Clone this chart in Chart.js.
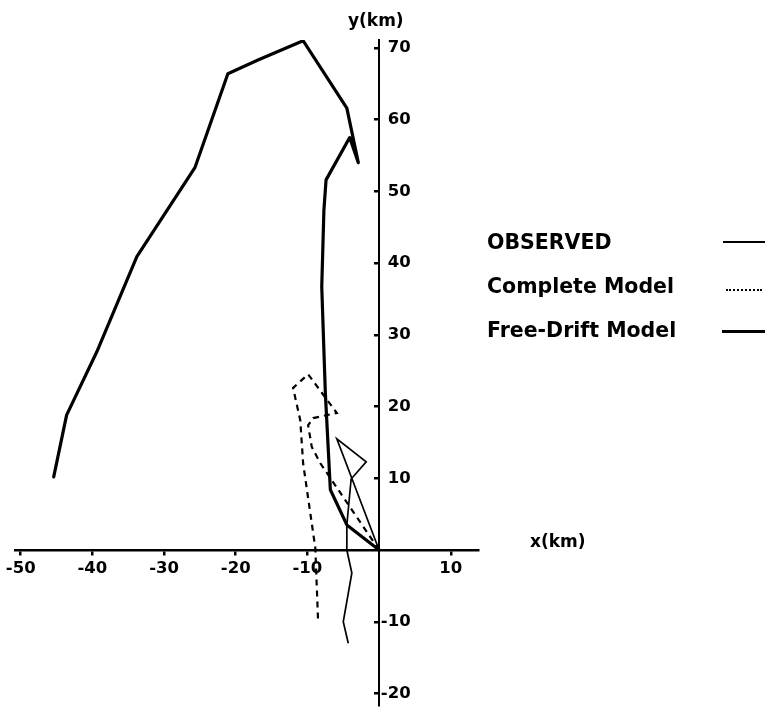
<!DOCTYPE html>
<html>
<head>
<meta charset="utf-8">
<script src="https://cdn.jsdelivr.net/npm/chart.js@4/dist/chart.umd.min.js"></script>
<style>
  html, body { margin: 0; padding: 0; background: #fff; }
  #wrap { position: relative; width: 767px; height: 710px; overflow: hidden; }
  canvas { position: absolute; left: 0; top: 0; }
  .txt { position: absolute; color: #000; font-family: "DejaVu Sans", sans-serif; white-space: nowrap; }
  .leg { font-size: 20.5px; font-weight: bold; line-height: 26px; }
  .axt { font-size: 17px; font-weight: bold; line-height: 20px; }
  .sample { position: absolute; }
</style>
</head>
<body>
<div id="wrap">
  <canvas id="c" width="767" height="710"></canvas>
  <div class="txt axt" style="left:348px; top:10px;">y(km)</div>
  <div class="txt axt" style="left:530px; top:531px;">x(km)</div>
  <div class="txt leg" style="left:487px; top:229px;">OBSERVED</div>
  <div class="txt leg" style="left:487px; top:273px;">Complete Model</div>
  <div class="txt leg" style="left:487px; top:317px;">Free-Drift Model</div>
  <div class="sample" style="left:723px; top:241px; width:42px; border-top:2px solid #000;"></div>
  <div class="sample" style="left:726px; top:289px; width:36px; border-top:2px dotted #000;"></div>
  <div class="sample" style="left:722px; top:330px; width:43px; border-top:3px solid #000;"></div>
</div>
<script>
// ---- data (km) ----
const freeDriftX = [0, -4.5, -6.8, -7.5, -8.0, -7.7, -7.4, -4.1, -2.9, -4.5, -10.6, -16.9, -21.1, -25.7, -33.8, -39.4, -43.6, -45.4];
const freeDriftY = [0, 3.5, 8.4, 21.9, 36.7, 47.4, 51.6, 57.5, 54.0, 61.6, 71.0, 68.3, 66.4, 53.3, 40.9, 27.6, 18.8, 10.2];

const observedX = [0, -5.9, -1.8, -3.9, -4.5, -4.5, -3.8, -5.0, -4.3];
const observedY = [0, 15.5, 12.3, 9.9, 3.5, 0, -3.2, -10.0, -13.0];

const completeX = [0, -8.2, -9.4, -9.9, -9.2, -5.9, -9.9, -12.0, -11.0, -10.6, -8.9, -8.5];
const completeY = [0, 12.1, 14.4, 17.4, 18.4, 19.1, 24.5, 22.6, 18.1, 12.1, 0.3, -10.2];

const xTickValues = [-50, -40, -30, -20, -10, 10];
const yTickValues = [70, 60, 50, 40, 30, 20, 10, -10, -20];

const toPts = (xs, ys) => xs.map((x, i) => ({ x: x, y: ys[i] }));

const tickFont = { family: "DejaVu Sans", size: 16.5, weight: "bold" };
const Y_MIN = -21.6, Y_MAX = 71.1;
const noPad = (s) => { s.paddingTop = 0; s.paddingBottom = 0; s.paddingLeft = 0; s.paddingRight = 0; };

new Chart(document.getElementById('c'), {
  type: 'scatter',
  data: {
    datasets: [
      { label: 'OBSERVED', data: toPts(observedX, observedY), showLine: true,
        borderColor: '#000', borderWidth: 1.7, pointRadius: 0, tension: 0, fill: false },
      { label: 'Complete Model', data: toPts(completeX, completeY), showLine: true,
        borderColor: '#000', borderWidth: 2.2, borderDash: [6, 5], pointRadius: 0, tension: 0, fill: false },
      { label: 'Free-Drift Model', data: toPts(freeDriftX, freeDriftY), showLine: true,
        borderColor: '#000', borderWidth: 3.2, pointRadius: 0, tension: 0, fill: false,
        borderJoinStyle: 'round', borderCapStyle: 'round' }
    ]
  },
  options: {
    responsive: false,
    animation: false,
    layout: { padding: { left: 15, right: 289, top: 40, bottom: 5 } },
    plugins: { legend: { display: false }, tooltip: { enabled: false }, title: { display: false } },
    scales: {
      x: {
        type: 'linear',
        position: { y: 0 },
        min: -50.8, max: 13.8,
        afterBuildTicks: (s) => { s.ticks = xTickValues.map(v => ({ value: v })); },
        afterFit: noPad,
        border: { display: true, color: '#000', width: 2.5 },
        grid: { drawOnChartArea: false, drawTicks: true, tickLength: 4, color: '#000', lineWidth: 2.5 },
        ticks: { color: '#000', font: tickFont, padding: 5, maxRotation: 0, autoSkip: false,
                 callback: (v) => String(v) }
      },
      y: {
        type: 'linear',
        position: { x: 0 },
        min: Y_MIN, max: Y_MAX,
        afterBuildTicks: (s) => { s.ticks = yTickValues.map(v => ({ value: v })); },
        afterFit: noPad,
        border: { display: true, color: '#000', width: 2 },
        grid: { drawOnChartArea: false, drawTicks: true, tickLength: 4, color: '#000', lineWidth: 2.5 },
        ticks: { display: false }
      },
      yLab: {
        type: 'linear',
        position: { x: 4.4 },
        min: Y_MIN, max: Y_MAX,
        afterBuildTicks: (s) => { s.ticks = yTickValues.map(v => ({ value: v })); },
        afterFit: noPad,
        border: { display: false },
        grid: { display: false },
        ticks: { color: '#000', font: tickFont, padding: 0, autoSkip: false,
                 callback: (v) => String(v) }
      }
    }
  }
});
</script>
</body>
</html>
